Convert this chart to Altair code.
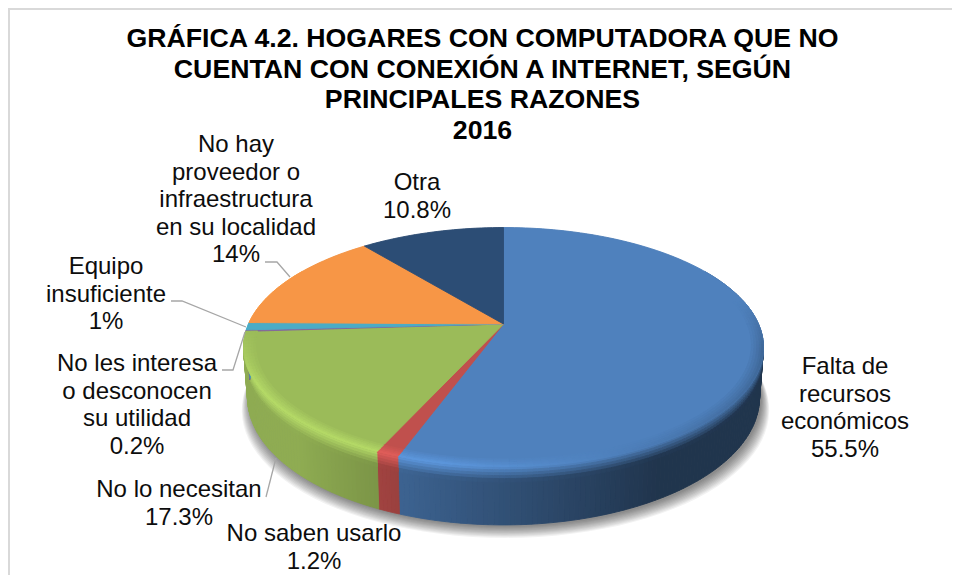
import math
import altair as alt

# ---- data ----
categories = ["Falta de recursos económicos", "No saben usarlo", "No lo necesitan",
              "No les interesa o desconocen su utilidad", "Equipo insuficiente",
              "No hay proveedor o infraestructura en su localidad", "Otra"]
values = [55.5, 1.2, 17.3, 0.2, 1.0, 14.0, 10.8]
colors = ["#4f81bd", "#c0504d", "#9bbb59", "#8064a2", "#4bacc6", "#f79646", "#2c4d75"]
wall_gain = [1.0, 1.05, 1.0, 1.0, 1.0, 1.0, 1.0]

title_lines = ["GRÁFICA 4.2. HOGARES CON COMPUTADORA QUE NO",
               "CUENTAN CON CONEXIÓN A INTERNET, SEGÚN",
               "PRINCIPALES RAZONES", "2016"]
title_base = [47, 78, 108, 139]
TITLE_X = 482.5

label_blocks = [
    (["Falta de", "recursos", "económicos", "55.5%"], 845, 374),
    (["No saben usarlo", "1.2%"], 314, 541),
    (["No lo necesitan", "17.3%"], 179, 497),
    (["No les interesa", "o desconocen", "su utilidad", "0.2%"], 137, 371),
    (["Equipo", "insuficiente", "1%"], 106, 274),
    (["No hay", "proveedor o", "infraestructura", "en su localidad", "14%"], 236, 152),
    (["Otra", "10.8%"], 417, 190),
]
LINE_H = 27.6

leaders = [
    [(265, 262), (277, 262), (290, 277)],
    [(171, 301), (182, 301), (246, 327)],
    [(222, 370), (233, 370), (245, 332)],
    [(266, 497), (276, 458)],
]

# ---- layout of the tilted pie ----
OFF = 8           # page margin
CX, CY = 503.5, 324
A, B, K = 255, 115.2, 0.194
SHRINK = 0.985


def hex2rgb(h):
    return [int(h[i:i + 2], 16) for i in (1, 3, 5)]


def rgb2hex(c):
    return "#%02x%02x%02x" % tuple(max(0, min(255, round(v))) for v in c)


def mix(a, b, t):
    return [x + (y - x) * t for x, y in zip(a, b)]


def scale(c, s):
    return [v * s for v in c]


def top_pt(theta, r=1.0):
    t = math.radians(theta)
    u, v = r * math.sin(t), r * math.cos(t)
    d = 1 + K * v
    return (CX + A * u / d, CY - B * v / d)


def low_pt(theta, frac=1.0, grow=1.0, dy=0.0, dx=0.0):
    t = math.radians(theta)
    x, y = top_pt(theta)
    v = math.cos(t)
    depth = 48 + 10 * max(0, -v)
    sh = 1 - (1 - SHRINK) * frac
    return (CX + (x - CX) * sh * grow + dx, y + depth * frac + dy)


def feat(pts, fill):
    ring = [list(p) for p in pts] + [list(pts[0])]
    return {"type": "Feature", "properties": {"c": fill},
            "geometry": {"type": "Polygon", "coordinates": [ring]}}


# slice spans
spans = []
a = 0.0
total = sum(values)
for val in values:
    b = a + val / total * 360
    spans.append((a, b))
    a = b


def fs(theta):
    return (1 - math.sin(math.radians(theta))) / 2


def rim_gain(f):
    return .8 + .6 * min(f, .6)


def steps(s, e, d):
    n = max(1, math.ceil((e - s) / d))
    return [s + (e - s) * i / n for i in range(n + 1)]


# shadow
shadow = []
for i in range(11):
    g = 1.0 + 0.003 * i
    shadow.append(feat([low_pt(t, 1.0, g, dy=2 + 1.1 * i, dx=2) for t in range(60, 301, 3)]
                       + [top_pt(t) for t in range(300, 419, 6)], "#000000"))

walls, faces = [], []
W_BANDS = [(0, .05), (.05, .1), (.1, .15), (.15, .2), (.2, .26)]
for (s, e), col, gain in zip(spans, colors, wall_gain):
    base = hex2rgb(col)
    ws, we = max(s, 60), min(e, 300)
    if ws < we:
        th = steps(ws, we, 1)
        for t0, t1 in zip(th, th[1:]):
            tm = (t0 + t1) / 2
            f = fs(tm)
            wall = scale(base, min(.92, .41 + .85 * max(0, f - .25)) * gain)
            rim = scale(base, rim_gain(f))
            # base of the wall: one solid facet under the graded bands
            walls.append(feat([low_pt(t0, .2), low_pt(t1, .2), low_pt(t1, 1), low_pt(t0, 1)],
                              rgb2hex(wall)))
            for b0, b1 in W_BANDS:
                w = min(1, ((b0 + b1) / 2) / .24)
                walls.append(feat([low_pt(t0, b0), low_pt(t1, b0), low_pt(t1, b1), low_pt(t0, b1)],
                                  rgb2hex(mix(rim, wall, w))))

for (s, e), col in zip(spans, colors):
    th = steps(s, e, 1.5)
    faces.append(feat([(CX, CY)] + [top_pt(t) for t in th], col))

bevel = []
R_BANDS = [(.955, .965), (.965, .975), (.975, .985), (.985, .993), (.993, 1.0)]
for (s, e), col in zip(spans, colors):
    base = hex2rgb(col)
    bs, be = max(s, 78), min(e, 266.4)
    if bs >= be:
        continue
    th = steps(bs, be, 1.5)
    for t0, t1 in zip(th, th[1:]):
        tm = (t0 + t1) / 2
        f = fs(tm)
        fade = min(1, (tm - 78) / 25, (268 - tm) / 25)
        rim = scale(base, rim_gain(f))
        for i, (r0, r1) in enumerate(R_BANDS):
            w = (i + 1) / len(R_BANDS) * fade
            bevel.append(feat([top_pt(t0, r0), top_pt(t1, r0), top_pt(t1, r1), top_pt(t0, r1)],
                              rgb2hex(mix(base, rim, w))))


def geo(features, stroke=True, opacity=None):
    kw = {"strokeWidth": 0.9} if stroke else {"strokeWidth": 0}
    if opacity is not None:
        kw["opacity"] = opacity
    enc = {"fill": alt.Fill("properties.c:N", scale=None)}
    if stroke:
        enc["stroke"] = alt.Stroke("properties.c:N", scale=None)
    return alt.Chart(alt.Data(values=features)).mark_geoshape(**kw).encode(**enc).project(
        type="identity", scale=1, translate=[-OFF, -OFF])


# texts
tx = [{"t": t, "x": TITLE_X - OFF, "y": y - OFF} for t, y in zip(title_lines, title_base)]
title = alt.Chart(alt.Data(values=tx)).mark_text(
    font="Liberation Sans", fontSize=26.7, fontWeight="bold", color="#000000",
    align="center", baseline="alphabetic").encode(
    x=alt.X("x:Q", scale=None, axis=None), y=alt.Y("y:Q", scale=None, axis=None), text="t:N")

lb = []
for lines, x, y in label_blocks:
    for i, t in enumerate(lines):
        lb.append({"t": t, "x": x - OFF, "y": y + i * LINE_H - OFF})
labels = alt.Chart(alt.Data(values=lb)).mark_text(
    font="Liberation Sans", fontSize=24, color="#0d0d0d",
    align="center", baseline="alphabetic").encode(
    x=alt.X("x:Q", scale=None, axis=None), y=alt.Y("y:Q", scale=None, axis=None), text="t:N")

ld = []
for i, pts in enumerate(leaders):
    for j, (x, y) in enumerate(pts):
        ld.append({"id": i, "o": j, "x": x - OFF, "y": y - OFF})
leader = alt.Chart(alt.Data(values=ld)).mark_line(color="#a6a6a6", strokeWidth=1.3).encode(
    x=alt.X("x:Q", scale=None, axis=None), y=alt.Y("y:Q", scale=None, axis=None),
    detail="id:N", order="o:Q")

border_pts = [{"x": 1, "y": 567, "o": 0}, {"x": 1, "y": 1, "o": 1}, {"x": 944, "y": 1, "o": 2}]
border = alt.Chart(alt.Data(values=border_pts)).mark_line(color="#d9d9d9", strokeWidth=2).encode(
    x=alt.X("x:Q", scale=None, axis=None), y=alt.Y("y:Q", scale=None, axis=None), order="o:Q")

chart = alt.layer(
    border,
    geo(shadow, stroke=False, opacity=0.05),
    geo(walls),
    geo(faces),
    geo(bevel),
    leader, labels, title,
).properties(width=944, height=567,
             padding={"left": 0, "right": 0, "top": 0, "bottom": 0},
             autosize=alt.AutoSizeParams(type="none", contains="padding"),
             background="#ffffff").configure_view(stroke=None)

chart.save("out.html", embed_options={"renderer": "svg", "actions": False, "padding": 0})
